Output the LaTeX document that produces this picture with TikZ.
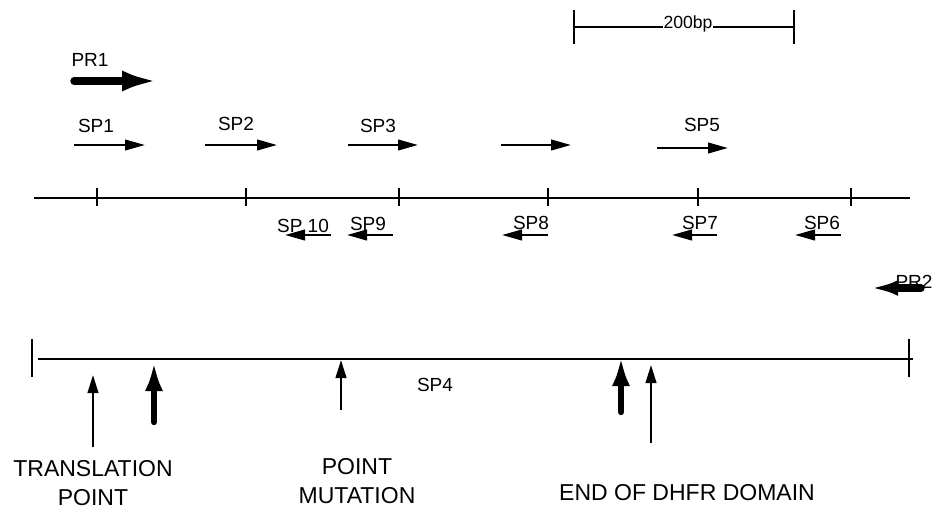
\documentclass[tikz,border=0pt]{standalone}
\usepackage{fontspec}
\setmainfont{Liberation Sans}
\usetikzlibrary{arrows.meta}
\tikzset{
  mapline/.style={line width=1.35pt},
  primer/.style={-{Triangle[length=10pt,width=5.3pt]},line width=1.15pt},
  bigprimer/.style={-{Latex[length=18pt,width=10.5pt]},line width=3.7pt,line cap=round},
  site/.style={-{Triangle[length=9pt,width=5.3pt]},line width=1.15pt},
  bigsite/.style={-{Latex[length=14.5pt,width=9pt]},line width=3.2pt,line cap=round},
  lbl/.style={inner sep=0pt,font=\fontsize{9.5}{11}\selectfont},
  caption/.style={inner sep=0pt,align=center,anchor=north,
    font=\fontsize{11.5}{14.4}\selectfont},
}
\begin{document}
\begin{tikzpicture}[x=0.5pt,y=-0.5pt]
  \useasboundingbox (0,0) rectangle (937,508);

  % scale bar
  \coordinate (barL) at (574,27);
  \coordinate (barR) at (794,27);
  \draw[mapline] (barL) -- (barR);
  \draw[mapline] (574,10) -- (574,44);
  \draw[mapline] (794,10) -- (794,44);
  \node[inner sep=0.3pt,fill=white,font=\fontsize{8.8}{10}\selectfont] (bar) at (688,24) {200bp};

  % outer primers
  \coordinate (pr1s) at (74,81);
  \coordinate (pr1e) at (158,81);
  \draw[bigprimer] (pr1s) -- (pr1e);
  \node[lbl] (pr1) at (90,60) {PR1};
  \coordinate (pr2s) at (921,288);
  \coordinate (pr2e) at (867,288);
  \draw[bigprimer,-{Latex[length=15.5pt,width=7.5pt]}] (pr2s) -- (pr2e);
  \node[lbl] (pr2) at (914,282) {PR2};

  % upper map
  \coordinate (mapL) at (34,198);
  \coordinate (mapR) at (910,198);
  \draw[mapline] (mapL) -- (mapR);
  \foreach \x in {97,246,399,548,698,851}
    \draw[mapline] (\x,188) -- (\x,206);

  % sequencing primers
  \foreach \n/\a/\b/\y in {1/74/145/145,2/205/277/145,3/348/418/145,
                           x/501/571/145,5/657/728/148,
                           6/841/795/235,7/717/672/235,8/548/502/235,
                           9/393/347/235,10/331/285/235}{
    \coordinate (sp\n s) at (\a,\y);
    \coordinate (sp\n e) at (\b,\y);
    \draw[primer] (sp\n s) -- (sp\n e);
  }
  \foreach \t/\x/\y in {SP1/96/126,SP2/236/124,SP3/378/126,SP5/702/125,
                        SP6/822/223,SP7/700/223,SP8/531/223,SP9/368/224}
    \node[lbl] (l\t) at (\x,\y) {\t};
  \node[lbl] (lSP10) at (303,226) {SP 10};

  % lower map
  \coordinate (geneL) at (38,359);
  \coordinate (geneR) at (913,359);
  \draw[mapline] (geneL) -- (geneR);
  \draw[mapline] (32,339) -- (32,377);
  \draw[mapline] (909,339) -- (909,377);
  \node[lbl] (sp4) at (435,385) {SP4};

  % marked sites
  \coordinate (tr1) at (93,447);  \coordinate (tr1t) at (93,375);
  \coordinate (tr2) at (154,422); \coordinate (tr2t) at (154,362);
  \coordinate (pm)  at (341,410); \coordinate (pmt)  at (341,360);
  \coordinate (dh1) at (621,412); \coordinate (dh1t) at (621,357);
  \coordinate (dh2) at (651,443); \coordinate (dh2t) at (651,365);
  \draw[site] (tr1) -- (tr1t);
  \draw[bigsite] (tr2) -- (tr2t);
  \draw[site] (pm) -- (pmt);
  \draw[bigsite] (dh1) -- (dh1t);
  \draw[site] (dh2) -- (dh2t);

  \node[caption] (trans) at (93,460) {TRANSLATION\\POINT};
  \node[caption] (mut) at (357,458) {POINT\\MUTATION};
  \node[caption] (dhfr) at (687,484) {END OF DHFR DOMAIN};
\end{tikzpicture}
\end{document}
